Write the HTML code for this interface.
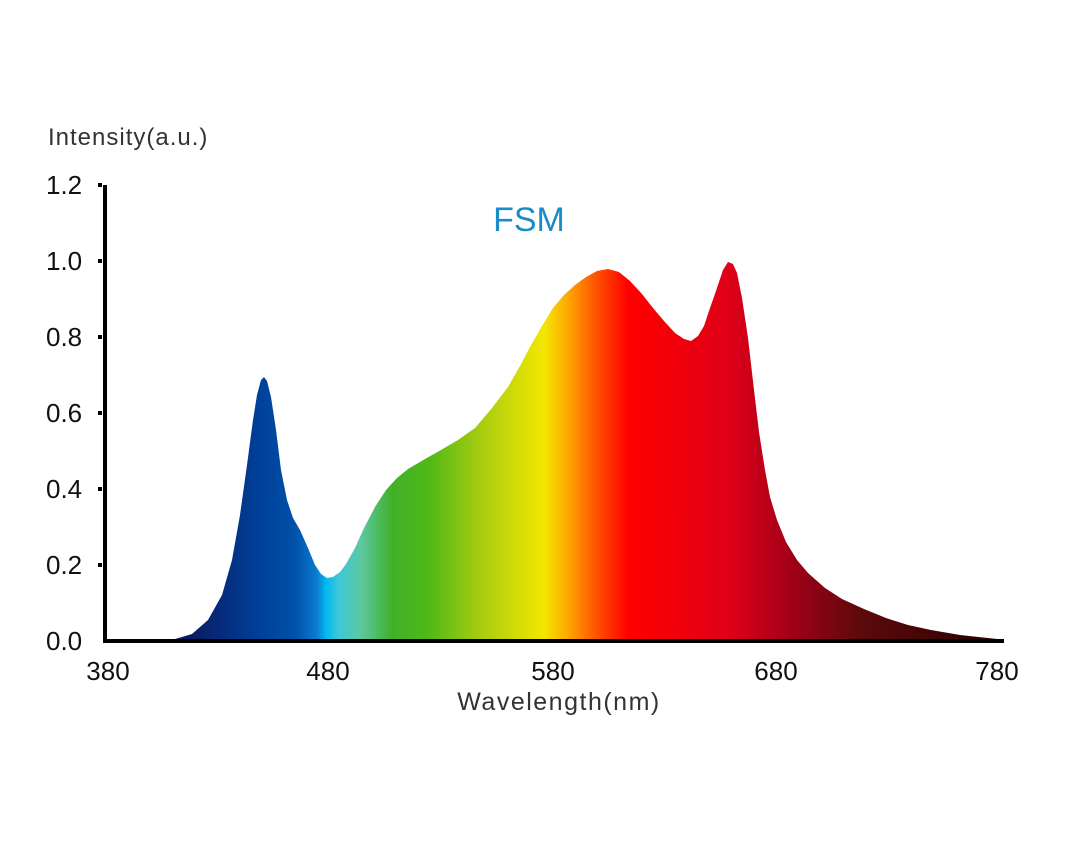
<!DOCTYPE html>
<html><head><meta charset="utf-8"><style>
html,body{margin:0;padding:0;background:#fff;}
svg{display:block;}
text{font-family:"Liberation Sans",sans-serif;}
</style></head><body>
<svg width="1080" height="856" viewBox="0 0 1080 856" xmlns="http://www.w3.org/2000/svg">
<defs>
<linearGradient id="g" gradientUnits="userSpaceOnUse" x1="108" y1="0" x2="997" y2="0">
<stop offset="0.09" stop-color="#0a1a60"/>
<stop offset="0.17" stop-color="#00409a"/>
<stop offset="0.21" stop-color="#0050a8"/>
<stop offset="0.235" stop-color="#0a7cd0"/>
<stop offset="0.245" stop-color="#00b8f0"/>
<stop offset="0.26" stop-color="#40c8d8"/>
<stop offset="0.285" stop-color="#5cc8a0"/>
<stop offset="0.32" stop-color="#40b028"/>
<stop offset="0.36" stop-color="#50b818"/>
<stop offset="0.42" stop-color="#a8cc10"/>
<stop offset="0.49" stop-color="#f2e800"/>
<stop offset="0.52" stop-color="#ffa000"/>
<stop offset="0.55" stop-color="#ff5000"/>
<stop offset="0.585" stop-color="#ff0000"/>
<stop offset="0.70" stop-color="#de0018"/>
<stop offset="0.77" stop-color="#a00018"/>
<stop offset="0.85" stop-color="#5a0a0a"/>
<stop offset="1" stop-color="#2a0000"/>
</linearGradient>
</defs>
<path fill="url(#g)" d="M152,641 L175,639 L192,634 L208,620 L222,595 L232,560 L240,515 L247,465 L253,420 L257,395 L261,380 L264,377 L267,381 L271,397 L276,430 L281,470 L287,500 L293,518 L300,530 L308,548 L315,565 L321,574 L327,578 L333,577 L340,572 L346,564 L355,548 L364,528 L375,507 L386,490 L397,478 L408,469 L425,459 L441,450 L458,440 L475,428 L492,408 L508,387 L520,366 L530,347 L542,326 L553,308 L564,295 L575,285 L586,277 L597,271 L608,269 L619,272 L630,281 L642,294 L653,308 L664,321 L675,333 L684,339 L691,341 L698,336 L704,326 L710,308 L717,288 L723,270 L728,262 L733,264 L737,273 L742,298 L748,338 L754,390 L759,432 L765,470 L770,497 L777,520 L786,542 L797,560 L808,573 L825,588 L842,599 L864,609 L886,618 L908,625 L931,630 L960,635 L997,639 L997,641 Z"/>
<line x1="105" y1="185" x2="105" y2="643" stroke="#000" stroke-width="4"/>
<line x1="103" y1="641" x2="1004" y2="641" stroke="#000" stroke-width="4"/>
<g fill="#000"><rect x="98" y="183" width="4" height="4"/><rect x="98" y="259" width="4" height="4"/><rect x="98" y="335" width="4" height="4"/><rect x="98" y="411" width="4" height="4"/><rect x="98" y="487" width="4" height="4"/><rect x="98" y="563" width="4" height="4"/></g>
<text x="48" y="145" font-size="24" fill="#333" letter-spacing="1">Intensity(a.u.)</text>
<g font-size="26" fill="#111">
<text x="46" y="194">1.2</text><text x="46" y="270">1.0</text><text x="46" y="346">0.8</text>
<text x="46" y="422">0.6</text><text x="46" y="498">0.4</text><text x="46" y="574">0.2</text><text x="46" y="650">0.0</text>
</g>
<g font-size="26" fill="#111" text-anchor="middle">
<text x="108" y="680">380</text><text x="328" y="680">480</text><text x="553" y="680">580</text><text x="776" y="680">680</text><text x="997" y="680">780</text>
</g>
<text x="559" y="710" font-size="25" fill="#333" text-anchor="middle" letter-spacing="1.5">Wavelength(nm)</text>
<text x="529" y="231" font-size="34" fill="#1a8cc8" text-anchor="middle">FSM</text>
</svg>
</body></html>
